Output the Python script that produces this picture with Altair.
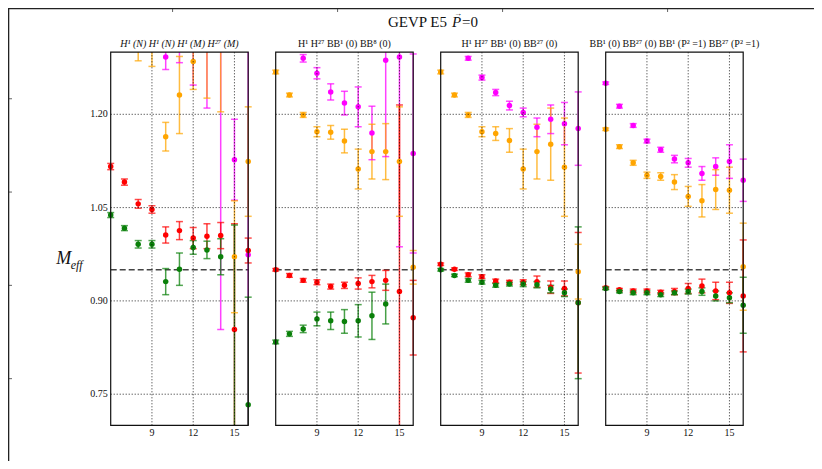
import altair as alt
import pandas as pd

# ---------------- data ----------------
T_VALUES = list(range(6, 17))
PANEL_TITLES = [
    "H¹ (N) H¹ (N) H¹ (M) H²⁷ (M)",
    "H¹ H²⁷ BB¹ (0) BB⁸ (0)",
    "H¹ H²⁷ BB¹ (0) BB²⁷ (0)",
    "BB¹ (0) BB²⁷ (0) BB¹ (P² =1) BB²⁷ (P² =1)",
]
SERIES_NAMES = ["magenta", "orange", "red", "green"]
SERIES_COLORS = ["#ff00ff", "#ffa500", "#ff0000", "#0a800a"]
X_TICKS = [9, 12, 15]
Y_TICKS = [0.75, 0.90, 1.05, 1.20]
Y_TICK_LABELS = ["0.75", "0.90", "1.05", "1.20"]
REFERENCE_LEVEL = 0.95
T_RANGE = [6, 16]
M_RANGE = [0.70, 1.30]
OUTER_X_TICK_T = 10.5
OUTER_Y_TICKS = [1.225, 1.075, 0.925, 0.775]
TITLE_PARTS = ["GEVP E5", "P", "=0", "\u2192"]

# panel 1
P0_MAG = [None, None, None, None, 1.292, 1.320, 1.330, 1.360, 1.340, 1.127, 0.974]
P0_MAG_ERR = [None, None, None, None, 0.020, 0.037, 0.083, 0.150, 0.486, 0.065, 0.400]
P0_ORA = [None, None, 1.310, 1.320, 1.164, 1.231, 1.285, 1.330, 1.320, 0.971, 1.124]
P0_ORA_ERR = [None, None, 0.024, 0.043, 0.023, 0.062, 0.045, 0.104, 0.116, 0.090, 0.088]
P0_RED = [1.116, 1.091, 1.056, 1.047, 1.006, 1.013, 1.001, 1.004, 1.005, 0.854, 0.981]
P0_RED_ERR = [0.005, 0.005, 0.007, 0.006, 0.013, 0.0145, 0.017, 0.020, 0.021, 0.170, 0.020]
P0_GRN = [1.038, 1.017, 0.991, 0.991, 0.931, 0.951, 0.986, 0.982, 0.971, 0.650, 0.733]
P0_GRN_ERR = [0.004, 0.004, 0.006, 0.006, 0.021, 0.026, 0.011, 0.014, 0.029, 0.372, 0.173]

# panel 2
P1_MAG = [None, None, 1.290, 1.266, 1.236, 1.218, 1.212, 1.170, 1.287, 1.292, 1.137]
P1_MAG_ERR = [None, None, 0.006, 0.009, 0.013, 0.019, 0.032, 0.043, 0.155, 0.305, 0.160]
P1_ORA = [1.268, 1.231, 1.199, 1.172, 1.171, 1.157, 1.112, 1.140, 1.140, 1.124, 0.954]
P1_ORA_ERR = [0.003, 0.003, 0.004, 0.008, 0.011, 0.019, 0.032, 0.044, 0.045, 0.088, 0.027]
P1_RED = [0.950, 0.941, 0.933, 0.930, 0.923, 0.925, 0.928, 0.931, 0.933, 0.915, 0.873]
P1_RED_ERR = [0.002, 0.003, 0.003, 0.004, 0.004, 0.005, 0.009, 0.010, 0.016, 0.300, 0.060]
P1_GRN = [0.834, 0.847, 0.855, 0.871, 0.868, 0.867, 0.868, 0.876, 0.895, None, None]
P1_GRN_ERR = [0.003, 0.004, 0.006, 0.011, 0.014, 0.019, 0.026, 0.038, 0.032, None, None]

# panel 3
P2_MAG = [None, None, 1.290, 1.259, 1.235, 1.214, 1.203, 1.179, 1.192, 1.185, 1.177]
P2_MAG_ERR = [None, None, 0.003, 0.004, 0.005, 0.007, 0.007, 0.015, 0.023, 0.034, 0.059]
P2_ORA = [1.268, 1.231, 1.199, 1.172, 1.169, 1.158, 1.112, 1.140, 1.152, 1.115, 0.947]
P2_ORA_ERR = [0.003, 0.003, 0.004, 0.008, 0.011, 0.019, 0.032, 0.044, 0.058, 0.079, 0.044]
P2_RED = [0.959, 0.951, 0.942, 0.939, 0.932, 0.930, 0.930, 0.931, 0.922, 0.920, 0.897]
P2_RED_ERR = [0.002, 0.002, 0.003, 0.003, 0.003, 0.003, 0.004, 0.009, 0.010, 0.012, 0.113]
P2_GRN = [0.950, 0.941, 0.933, 0.930, 0.925, 0.927, 0.927, 0.926, 0.919, 0.913, 0.897]
P2_GRN_ERR = [0.002, 0.002, 0.003, 0.003, 0.003, 0.003, 0.004, 0.005, 0.006, 0.006, 0.122]

# panel 4
P3_MAG = [1.250, 1.213, 1.182, 1.157, 1.143, 1.128, 1.122, 1.105, 1.116, 1.124, 1.094]
P3_MAG_ERR = [0.002, 0.003, 0.003, 0.003, 0.004, 0.006, 0.007, 0.011, 0.014, 0.027, 0.034]
P3_ORA = [1.176, 1.148, 1.122, 1.102, 1.100, 1.091, 1.068, 1.061, 1.079, 1.078, 0.955]
P3_ORA_ERR = [0.002, 0.003, 0.004, 0.005, 0.006, 0.012, 0.016, 0.026, 0.032, 0.037, 0.070]
P3_RED = [0.921, 0.918, 0.916, 0.916, 0.914, 0.915, 0.920, 0.924, 0.916, 0.913, 0.908]
P3_RED_ERR = [0.002, 0.002, 0.003, 0.003, 0.003, 0.005, 0.008, 0.011, 0.014, 0.017, 0.090]
P3_GRN = [0.920, 0.915, 0.913, 0.913, 0.910, 0.913, 0.915, 0.915, 0.908, 0.905, 0.893]
P3_GRN_ERR = [0.002, 0.002, 0.003, 0.003, 0.003, 0.003, 0.004, 0.006, 0.008, 0.008, 0.045]

PANELS = [
    [(P0_MAG, P0_MAG_ERR), (P0_ORA, P0_ORA_ERR), (P0_RED, P0_RED_ERR), (P0_GRN, P0_GRN_ERR)],
    [(P1_MAG, P1_MAG_ERR), (P1_ORA, P1_ORA_ERR), (P1_RED, P1_RED_ERR), (P1_GRN, P1_GRN_ERR)],
    [(P2_MAG, P2_MAG_ERR), (P2_ORA, P2_ORA_ERR), (P2_RED, P2_RED_ERR), (P2_GRN, P2_GRN_ERR)],
    [(P3_MAG, P3_MAG_ERR), (P3_ORA, P3_ORA_ERR), (P3_RED, P3_RED_ERR), (P3_GRN, P3_GRN_ERR)],
]

# ---------------- layout ----------------
PLOT_W, PLOT_H = 806, 453
PX_PER_T = 13.75
PANEL0_LEFT_PX = 102.7
PANEL_STEP = 12.0
PX_PER_M = 622.0
M120_PX = 106.3
X_MIN = T_RANGE[0] - PANEL0_LEFT_PX / PX_PER_T
X_MAX = X_MIN + PLOT_W / PX_PER_T
Y_MAX = 1.20 + M120_PX / PX_PER_M
Y_MIN = Y_MAX - PLOT_H / PX_PER_M
FONT = "Liberation Serif"
LO, HI = M_RANGE

# ---------------- tables ----------------
bar_rows, cap_rows, pt_rows = [], [], []
for p, panel in enumerate(PANELS):
    for s, (vals, errs) in zip(SERIES_NAMES, panel):
        for t, v, e in zip(T_VALUES, vals, errs):
            if v is None:
                continue
            gx = t + PANEL_STEP * p
            lo, hi = v - e, v + e
            clo, chi = max(lo, LO), min(hi, HI)
            if clo < chi:
                bar_rows.append({"gx": gx, "lo": clo, "hi": chi, "series": s})
            for c in (lo, hi):
                if LO <= c <= HI:
                    cap_rows.append({"gx": gx, "cap": c, "series": s})
            if LO <= v <= HI:
                pt_rows.append({"gx": gx, "v": v, "series": s})

bars_df = pd.DataFrame(bar_rows)
caps_df = pd.DataFrame(cap_rows)
pts_df = pd.DataFrame(pt_rows)

frames_df = pd.DataFrame([
    {"left": T_RANGE[0] + PANEL_STEP * p, "right": T_RANGE[1] + PANEL_STEP * p,
     "lo": LO, "hi": HI, "ref": REFERENCE_LEVEL,
     "mid": (T_RANGE[0] + T_RANGE[1]) / 2 + PANEL_STEP * p, "title": PANEL_TITLES[p]}
    for p in range(len(PANELS))
])
vgrid_df = pd.DataFrame([
    {"gx": t + PANEL_STEP * p, "lo": LO, "hi": HI, "label": str(t)}
    for p in range(len(PANELS)) for t in X_TICKS
])
hgrid_df = pd.DataFrame([
    {"left": T_RANGE[0] + PANEL_STEP * p, "right": T_RANGE[1] + PANEL_STEP * p, "v": v}
    for p in range(len(PANELS)) for v in Y_TICKS
])
ylab_df = pd.DataFrame({"gx": [T_RANGE[0]] * len(Y_TICKS), "v": Y_TICKS, "label": Y_TICK_LABELS})
outer_top_df = pd.DataFrame({"gx": [OUTER_X_TICK_T + PANEL_STEP * p for p in range(len(PANELS))],
                             "v": [Y_MAX] * len(PANELS)})
outer_left_df = pd.DataFrame({"gx": [X_MIN] * len(OUTER_Y_TICKS), "v": OUTER_Y_TICKS})
outer_lines_df = pd.DataFrame({"x1": [X_MIN, X_MIN], "x2": [X_MIN, X_MAX],
                               "y1": [Y_MIN, Y_MAX], "y2": [Y_MAX, Y_MAX]})

xs = alt.Scale(domain=[X_MIN, X_MAX], nice=False, zero=False)
ys = alt.Scale(domain=[Y_MIN, Y_MAX], nice=False, zero=False)
color = alt.Color("series:N", scale=alt.Scale(domain=SERIES_NAMES, range=SERIES_COLORS), legend=None)


def X(f):
    return alt.X(f, scale=xs, axis=None)


def Y(f):
    return alt.Y(f, scale=ys, axis=None)


outer_lines = alt.Chart(outer_lines_df).mark_rule(color="#222", strokeWidth=2.6).encode(
    x=X("x1:Q"), x2="x2:Q", y=Y("y1:Q"), y2="y2:Q")
outer_top = alt.Chart(outer_top_df).mark_tick(orient="vertical", size=8, thickness=1, color="#222").encode(
    x=X("gx:Q"), y=Y("v:Q"))
outer_left = alt.Chart(outer_left_df).mark_tick(orient="horizontal", size=8, thickness=1, color="#222").encode(
    x=X("gx:Q"), y=Y("v:Q"))

ref_line = alt.Chart(frames_df).mark_rule(color="#444", strokeWidth=1.5, strokeDash=[6, 3]).encode(
    x=X("left:Q"), x2="right:Q", y=Y("ref:Q"))

bars = alt.Chart(bars_df).mark_rule(strokeWidth=1.5, opacity=0.75).encode(
    x=X("gx:Q"), y=Y("lo:Q"), y2="hi:Q", color=color)
caps = alt.Chart(caps_df).mark_tick(orient="horizontal", size=7, thickness=1.5, opacity=0.7).encode(
    x=X("gx:Q"), y=Y("cap:Q"), color=color)
points = alt.Chart(pts_df).mark_circle(size=30, opacity=1).encode(
    x=X("gx:Q"), y=Y("v:Q"), color=color)

vgrid = alt.Chart(vgrid_df).mark_rule(color="#000", strokeWidth=1, strokeDash=[1, 2], opacity=0.85).encode(
    x=X("gx:Q"), y=Y("lo:Q"), y2="hi:Q")
hgrid = alt.Chart(hgrid_df).mark_rule(color="#000", strokeWidth=1, strokeDash=[1, 2], opacity=0.85).encode(
    x=X("left:Q"), x2="right:Q", y=Y("v:Q"))

frames = alt.Chart(frames_df).mark_rect(fillOpacity=0, stroke="#111", strokeWidth=1.2).encode(
    x=X("left:Q"), x2="right:Q", y=Y("lo:Q"), y2="hi:Q")

xlabels = alt.Chart(vgrid_df).mark_text(font=FONT, fontSize=10, baseline="top", dy=3, color="#111").encode(
    x=X("gx:Q"), y=Y("lo:Q"), text="label:N")
ylabels = alt.Chart(ylab_df).mark_text(font=FONT, fontSize=10, align="right", baseline="middle", dx=-3,
                                       color="#111").encode(x=X("gx:Q"), y=Y("v:Q"), text="label:N")
sub_it = alt.Chart(frames_df.iloc[:1]).mark_text(font=FONT, fontSize=10, fontStyle="italic", baseline="bottom",
                                                 dy=-3, color="#111").encode(
    x=X("mid:Q"), y=Y("hi:Q"), text="title:N")
sub_up = alt.Chart(frames_df.iloc[1:]).mark_text(font=FONT, fontSize=10, baseline="bottom", dy=-3,
                                                 color="#111").encode(
    x=X("mid:Q"), y=Y("hi:Q"), text="title:N")

title_df = pd.DataFrame({"gx": [(frames_df["left"].min() + frames_df["right"].max()) / 2], "v": [HI],
                         "a": [TITLE_PARTS[0]], "p": [TITLE_PARTS[1]], "eq": [TITLE_PARTS[2]],
                         "arrow": [TITLE_PARTS[3]]})
title_a = alt.Chart(title_df).mark_text(font=FONT, fontSize=15, align="right", baseline="middle",
                                        dx=20, dy=-30, color="#111").encode(
    x=X("gx:Q"), y=Y("v:Q"), text="a:N")
title_p = alt.Chart(title_df).mark_text(font=FONT, fontSize=15, fontStyle="italic", align="left",
                                        baseline="middle", dx=25, dy=-30, color="#111").encode(
    x=X("gx:Q"), y=Y("v:Q"), text="p:N")
title_eq = alt.Chart(title_df).mark_text(font=FONT, fontSize=15, align="left", baseline="middle",
                                         dx=35, dy=-30, color="#111").encode(
    x=X("gx:Q"), y=Y("v:Q"), text="eq:N")
title_arrow = alt.Chart(title_df).mark_text(font=FONT, fontSize=8, align="center", baseline="middle",
                                            dx=31, dy=-38, color="#111").encode(
    x=X("gx:Q"), y=Y("v:Q"), text="arrow:N")

ylab_m_df = pd.DataFrame({"gx": [T_RANGE[0]], "v": [REFERENCE_LEVEL], "m": ["M"], "sub": ["eff"]})
m_label = alt.Chart(ylab_m_df).mark_text(font=FONT, fontSize=18, fontStyle="italic", align="center",
                                         baseline="middle", dx=-47, dy=-11, color="#111").encode(
    x=X("gx:Q"), y=Y("v:Q"), text="m:N")
eff_label = alt.Chart(ylab_m_df).mark_text(font=FONT, fontSize=12, fontStyle="italic", align="left",
                                           baseline="middle", dx=-40, dy=-5, color="#111").encode(
    x=X("gx:Q"), y=Y("v:Q"), text="sub:N")

chart = alt.layer(
    outer_lines, outer_top, outer_left, ref_line, bars, caps, points, vgrid, hgrid, frames,
    xlabels, ylabels, sub_it, sub_up, title_a, title_p, title_eq, title_arrow, m_label, eff_label,
).properties(
    width=PLOT_W, height=PLOT_H, autosize=alt.AutoSizeParams(type="none"), padding=0,
).configure_view(stroke=None)

chart.save("out.html", embed_options={"renderer": "svg", "actions": False})
